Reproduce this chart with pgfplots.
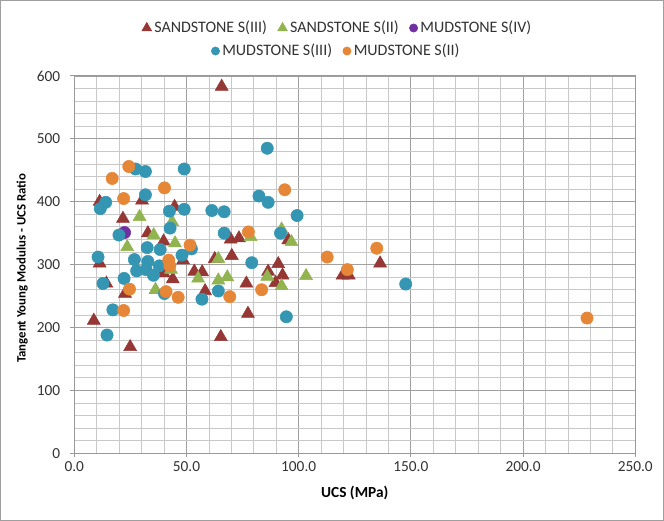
\documentclass[border=0pt]{standalone}
\usepackage{pgfplots}
\pgfplotsset{compat=1.18}
\usepackage{fontspec}
\setmainfont{Carlito}
\definecolor{cRed}{RGB}{149,55,53}
\definecolor{cGreen}{RGB}{146,180,80}
\definecolor{cPurple}{RGB}{112,48,160}
\definecolor{cTeal}{RGB}{52,150,178}
\definecolor{cOrange}{RGB}{230,134,55}
\definecolor{gridmaj}{RGB}{160,160,160}
\definecolor{gridmin}{RGB}{200,200,200}
\definecolor{txt}{RGB}{50,50,50}
\pgfplotsset{
  common/.style={
    scale only axis, width=420.75pt, height=283pt,
    at={(55.7pt,50.8pt)}, anchor=south west,
    xmin=0, xmax=250, ymin=0, ymax=600,
    /pgf/number format/assume math mode=true,
    legend style={draw=none, fill=none, font=\fontsize{12}{14}\selectfont, text=txt,
      legend columns=-1, anchor=center,
      /tikz/every even column/.append style={column sep=6pt},
      /tikz/every odd column/.append style={column sep=0pt},
      inner sep=0pt, nodes={inner xsep=2pt, inner ysep=1pt}},
    legend image code/.code={\draw[#1] plot coordinates {(0pt,0pt)};},
  }
}
\begin{document}
\begin{tikzpicture}
\useasboundingbox (0,0) rectangle (498pt,390.75pt);
\draw[gray!75, line width=0.9pt] (0.6pt,0.6pt) rectangle (497.4pt,390.15pt);
\begin{axis}[common,
  xtick={0,50,...,250}, ytick={0,100,...,600},
  minor x tick num=4, minor y tick num=4,
  grid=both,
  major grid style={gridmaj, line width=0.6pt},
  minor grid style={gridmin, line width=0.6pt},
  axis line style={gray!80, line width=0.7pt},
  tick align=outside, tick pos=left,
  major tick length=3pt, minor tick length=0pt,
  every tick/.style={gray!80, line width=0.7pt},
  tick label style={font=\fontsize{11.5}{13}\selectfont, text=txt},
  xticklabel style={/pgf/number format/.cd, fixed, fixed zerofill, precision=1},
  yticklabel style={xshift=-4pt, /pgf/number format/.cd, fixed, precision=0},
  xlabel={\bfseries UCS (MPa)},
  ylabel={\bfseries Tangent Young Modulus - UCS Ratio},
  xlabel style={at={(axis description cs:0.5,-0.106)}, anchor=center, font=\fontsize{11.5}{13}\selectfont},
  ylabel style={at={(axis description cs:-0.093,0.49)}, anchor=center, font=\fontsize{9.6}{12}\selectfont},
  legend style={at={(axis description cs:0.470,1.127)}},
]
\addplot[only marks, mark=triangle*, mark size=5.6pt, color=cRed, fill=cRed,
  legend image post style={mark size=4.2pt}] coordinates {
(65.7,583) (11.3,400) (30.2,402) (44.7,392) (21.7,373) (32.8,350) (39.8,337)
(11.3,302) (14.3,270) (8.7,211) (24.9,169) (22.6,254) (39.7,287) (43.9,277)
(48.5,307) (53.5,289) (57.0,288) (58.3,258) (62.6,309) (70.2,314) (69.7,340)
(73.4,342) (95.4,339) (76.7,270) (77.4,222) (65.3,185) (86.4,289) (90.9,301)
(92.8,283) (89.7,271) (119.6,283) (122.3,283) (136.3,302)
};
\addlegendentry{SANDSTONE S(III)}
\addplot[only marks, mark=triangle*, mark size=5.6pt, color=cGreen, fill=cGreen,
  legend image post style={mark size=4.2pt}] coordinates {
(29.1,376) (43.6,368) (35.4,347) (23.6,328) (44.9,334) (43.1,292) (36.2,260)
(55.2,278) (64.2,309) (64.2,275) (68.2,280) (78.6,344) (92.4,356) (96.8,336)
(86.0,281) (92.4,266) (103.3,282)
};
\addlegendentry{SANDSTONE S(II)}
\addplot[only marks, mark=*, mark size=4.6pt, color=cPurple, fill=cPurple,
  legend image post style={mark size=3.1pt}] coordinates {
(22.4,351)
};
\addlegendentry{MUDSTONE S(IV)}
\end{axis}
\begin{axis}[common, hide axis,
  legend style={at={(axis description cs:0.468,1.066)}},
]
\addplot[only marks, mark=*, mark size=4.6pt, color=cTeal, fill=cTeal,
  legend image post style={mark size=3.1pt}] coordinates {
(27.3,452) (31.7,448) (49.0,452) (86.0,485) (31.7,411) (14.0,399) (11.6,389)
(42.4,385) (49.0,388) (82.3,409) (86.4,399) (61.3,386) (66.8,384) (99.3,378)
(42.7,358) (19.9,347) (66.8,350) (91.9,350) (32.5,327) (38.3,324) (52.2,325)
(48.0,315) (10.6,312) (26.8,308) (32.8,305) (27.8,290) (32.0,292) (35.3,283)
(37.9,298) (40.2,254) (22.2,278) (12.8,270) (17.2,228) (14.6,188) (56.9,245)
(64.2,258) (79.1,303) (94.5,217) (147.7,269)
};
\addlegendentry{MUDSTONE S(III)}
\addplot[only marks, mark=*, mark size=4.6pt, color=cOrange, fill=cOrange,
  legend image post style={mark size=3.1pt}] coordinates {
(24.3,456) (16.9,437) (40.2,422) (22.0,405) (93.8,419) (51.6,331) (42.1,307)
(42.6,298) (40.9,257) (46.3,248) (24.6,261) (22.0,227) (69.3,249) (83.5,260)
(77.6,352) (112.7,312) (121.7,292) (134.8,326) (228.5,215)
};
\addlegendentry{MUDSTONE S(II)}
\end{axis}
\end{tikzpicture}
\end{document}
